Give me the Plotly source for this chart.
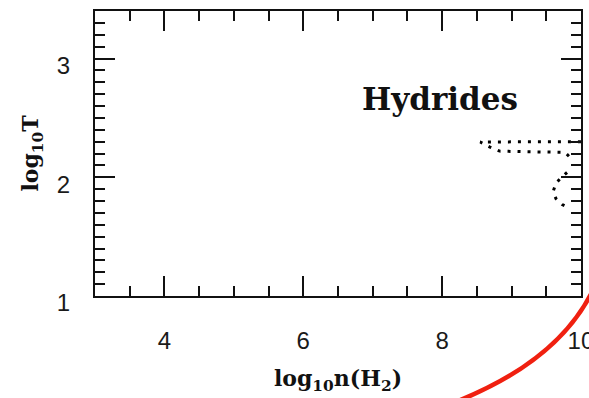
import plotly.graph_objects as go

# ---- data ----
# upper dotted contour (log n(H2), log T)
contour1_x = [10.0, 9.6, 9.2, 8.8, 8.55, 8.69, 8.83, 9.2, 9.5, 9.77, 9.84]
contour1_y = [2.30, 2.30, 2.30, 2.30, 2.297, 2.254, 2.22, 2.215, 2.212, 2.21, 2.17]
# lower dotted contour
contour2_x = [9.80, 9.72, 9.64, 9.60, 9.64, 9.73, 9.80]
contour2_y = [2.04, 2.00, 1.95, 1.88, 1.82, 1.77, 1.75]

x_range = [3, 10.001]
y_range = [1, 3.4]
x_tickvals = [4, 6, 8, 10]
y_tickvals = [1, 2, 3]
label = "Hydrides"

W, H = 589, 398
ML, MR, MT, MB = 95, 8, 11, 102

fig = go.Figure()
dot = dict(color="black", width=3, dash="3px,7px")
fig.add_trace(go.Scatter(x=contour1_x, y=contour1_y, mode="lines", line=dot,
                         showlegend=False, hoverinfo="skip"))
fig.add_trace(go.Scatter(x=contour2_x, y=contour2_y, mode="lines", line=dot,
                         showlegend=False, hoverinfo="skip"))

tickfont = dict(family="Liberation Sans, Arial", size=24, color="#1a1a1a")
titlefont = dict(family="DejaVu Serif", size=22, color="#111", weight="bold")

fig.update_xaxes(range=x_range, tickvals=x_tickvals, ticks="inside", ticklen=20,
                 tickwidth=2, tickcolor="#111", showline=True, linewidth=2,
                 linecolor="#111", mirror="allticks", showgrid=False, zeroline=False,
                 tickfont=tickfont, ticklabelstandoff=22, ticklabeloverflow="allow",
                 automargin=False,
                 minor=dict(dtick=0.5, tick0=0, ticks="inside", ticklen=10,
                            tickwidth=2, tickcolor="#111", showgrid=False),
                 title=dict(text="log<sub>10</sub>n(H<sub>2</sub>)", font=titlefont,
                            standoff=18))
fig.update_yaxes(range=y_range, tickvals=y_tickvals, ticks="inside", ticklen=20,
                 tickwidth=2, tickcolor="#111", showline=True, linewidth=2,
                 linecolor="#111", mirror="allticks", showgrid=False, zeroline=False,
                 tickfont=tickfont, ticklabelstandoff=18, ticklabelshift=7,
                 ticklabeloverflow="allow", automargin=False,
                 minor=dict(dtick=0.1, tick0=0, ticks="inside", ticklen=10,
                            tickwidth=2, tickcolor="#111", showgrid=False),
                 title=dict(text="log<sub>10</sub>T", font=titlefont, standoff=12))

fig.add_annotation(x=7.97, y=2.66, xref="x", yref="y", text=label, showarrow=False,
                   font=dict(family="DejaVu Serif", size=31, color="#111", weight="bold"))

# red annotation arc drawn over the picture (pixel coords -> paper coords)
pw, ph = W - ML - MR, H - MT - MB
def px(xp):
    return (xp - ML) / pw
def py(yp):
    return (H - MB - yp) / ph
arc = [(458, 401), (560, 360), (594, 288)]
path = "M {:.4f},{:.4f} Q {:.4f},{:.4f} {:.4f},{:.4f}".format(
    px(arc[0][0]), py(arc[0][1]), px(arc[1][0]), py(arc[1][1]), px(arc[2][0]), py(arc[2][1]))
fig.add_shape(type="path", path=path, xref="paper", yref="paper",
              line=dict(color="#f02010", width=4.5))

fig.update_layout(width=W, height=H, margin=dict(l=ML, r=MR, t=MT, b=MB),
                  plot_bgcolor="white", paper_bgcolor="white", showlegend=False)

fig.write_html("out.html")
